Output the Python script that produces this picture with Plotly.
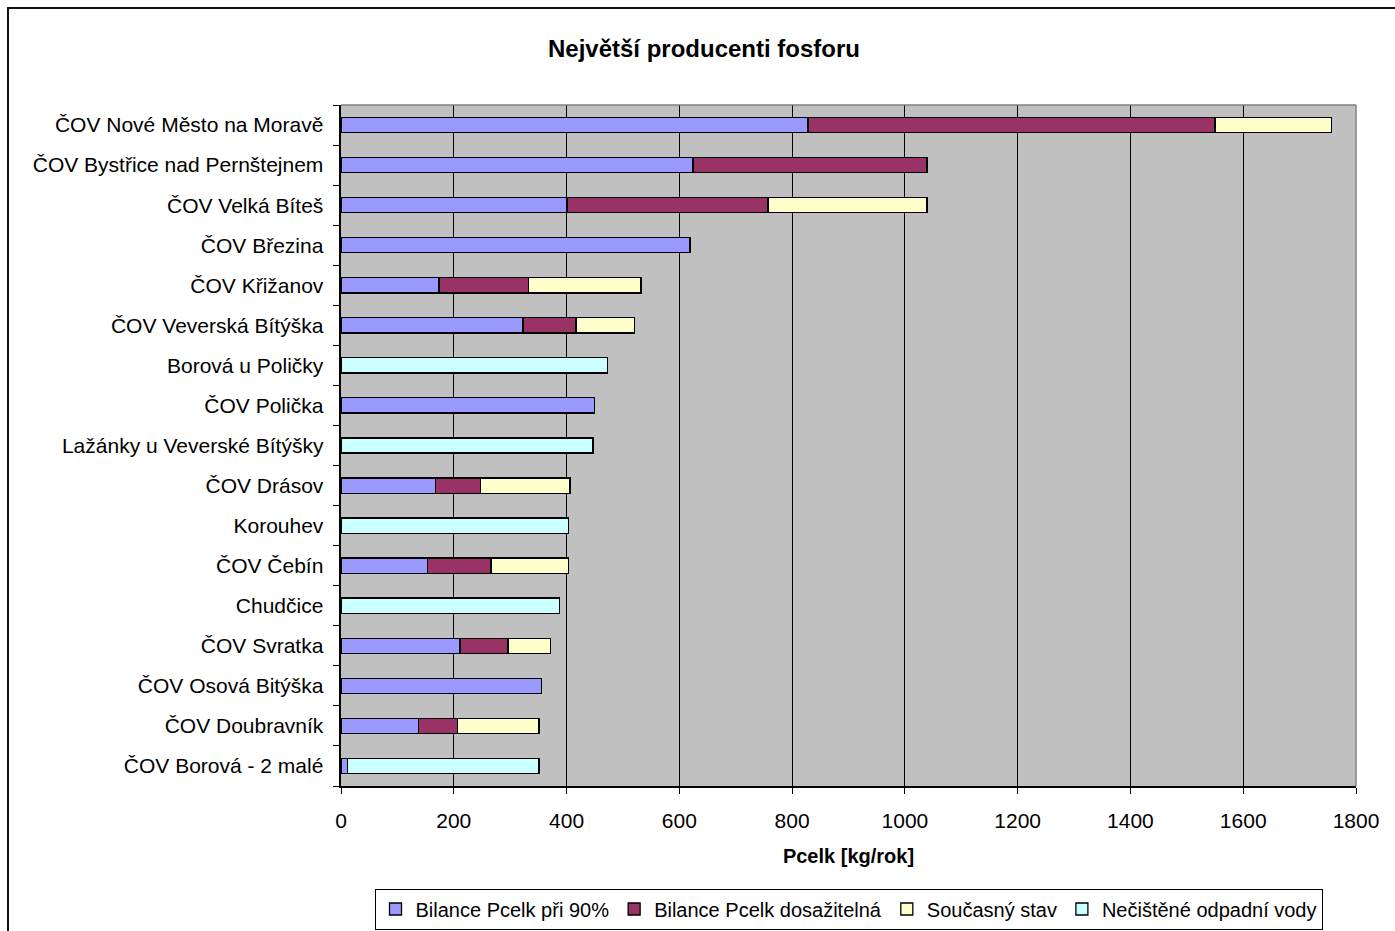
import plotly.graph_objects as go

# Sites, listed top to bottom as they appear on the chart
sites = [
    "ČOV Nové Město na Moravě",
    "ČOV Bystřice nad Pernštejnem",
    "ČOV Velká Bíteš",
    "ČOV Březina",
    "ČOV Křižanov",
    "ČOV Veverská Bítýška",
    "Borová u Poličky",
    "ČOV Polička",
    "Lažánky u Veverské Bítýšky",
    "ČOV Drásov",
    "Korouhev",
    "ČOV Čebín",
    "Chudčice",
    "ČOV Svratka",
    "ČOV Osová Bitýška",
    "ČOV Doubravník",
    "ČOV Borová - 2 malé",
]

# Phosphorus load components [kg/rok], stacked left to right
bilance_90 = [828, 624, 401, 619, 174, 323, 0, 450, 0, 168, 0, 153, 0, 211, 356, 138, 12]
bilance_dosazitelna = [722, 415, 356, 0, 158, 94, 0, 0, 0, 80, 0, 113, 0, 85, 0, 68, 0]
soucasny_stav = [207, 0, 282, 0, 200, 103, 0, 0, 0, 158, 0, 137, 0, 76, 0, 145, 0]
necistene_vody = [0, 0, 0, 0, 0, 0, 472, 0, 447, 0, 403, 0, 387, 0, 0, 0, 339]

series_names = [
    "Bilance Pcelk při 90%",
    "Bilance Pcelk dosažitelná",
    "Současný stav",
    "Nečištěné odpadní vody",
]
series_values = [bilance_90, bilance_dosazitelna, soucasny_stav, necistene_vody]
series_colors = ["#9999FF", "#993366", "#FFFFCC", "#CCFFFF"]

x_ticks = [0, 200, 400, 600, 800, 1000, 1200, 1400, 1600, 1800]

FONT = "Liberation Sans, Arial, sans-serif"

fig = go.Figure()
for name, vals, col in zip(series_names, series_values, series_colors):
    fig.add_trace(go.Bar(
        y=sites, x=vals, name=name, orientation="h",
        marker=dict(color=col, line=dict(color="black", width=1.3)),
    ))

W, H = 1395, 931
L, R, T, B = 341, 1356, 105, 786

fig.update_layout(
    width=W, height=H,
    barmode="stack", bargap=0.62,
    paper_bgcolor="white", plot_bgcolor="#C0C0C0",
    margin=dict(l=L, r=W - R, t=T, b=H - B, pad=0, autoexpand=False),
    font=dict(family=FONT, size=20, color="black"),
    title=dict(
        text="<b>Největší producenti fosforu</b>",
        x=704 / W, xanchor="center", y=1 - 49 / H, yanchor="middle",
        font=dict(size=24, family=FONT, color="black"),
    ),
    showlegend=True,
    legend=dict(
        orientation="h", x=0.5, xanchor="center",
        yref="container", y=1 - 909 / H, yanchor="middle",
        bordercolor="black", borderwidth=1, bgcolor="white",
        font=dict(size=20, family=FONT), itemwidth=30,
        traceorder="normal",
    ),
    xaxis=dict(
        range=[0, 1800], tickvals=x_ticks, ticktext=[str(v) for v in x_ticks],
        showgrid=True, gridcolor="black", gridwidth=1,
        showline=True, linecolor="black", linewidth=1.5,
        ticks="outside", ticklen=6, tickcolor="black",
        tickfont=dict(size=21), zeroline=False, ticklabelstandoff=9,
        title=dict(text="<b>Pcelk [kg/rok]</b>", font=dict(size=20), standoff=18),
        automargin=False, fixedrange=True,
    ),
    yaxis=dict(
        categoryorder="array", categoryarray=sites[::-1],
        showgrid=False, showline=True, linecolor="black", linewidth=1.5,
        ticks="outside", ticklen=6, tickcolor="black", tickson="boundaries",
        tickfont=dict(size=21), ticksuffix="  ", automargin=False,
    ),
)

# Plot area top/right border and the surrounding chart frame
fig.add_shape(type="line", xref="paper", yref="paper", x0=0, x1=1, y0=1, y1=1,
              line=dict(color="#808080", width=1.5))
fig.add_shape(type="line", xref="paper", yref="paper", x0=1, x1=1, y0=0, y1=1,
              line=dict(color="#808080", width=1.5))
fig.add_shape(type="rect", xref="paper", yref="paper",
              x0=(8 - L) / (R - L), x1=(W + 20 - L) / (R - L),
              y0=(B - (H + 20)) / (B - T), y1=1 + (T - 8) / (B - T),
              line=dict(color="#111111", width=2), fillcolor="rgba(0,0,0,0)")

fig.write_html("out.html")
